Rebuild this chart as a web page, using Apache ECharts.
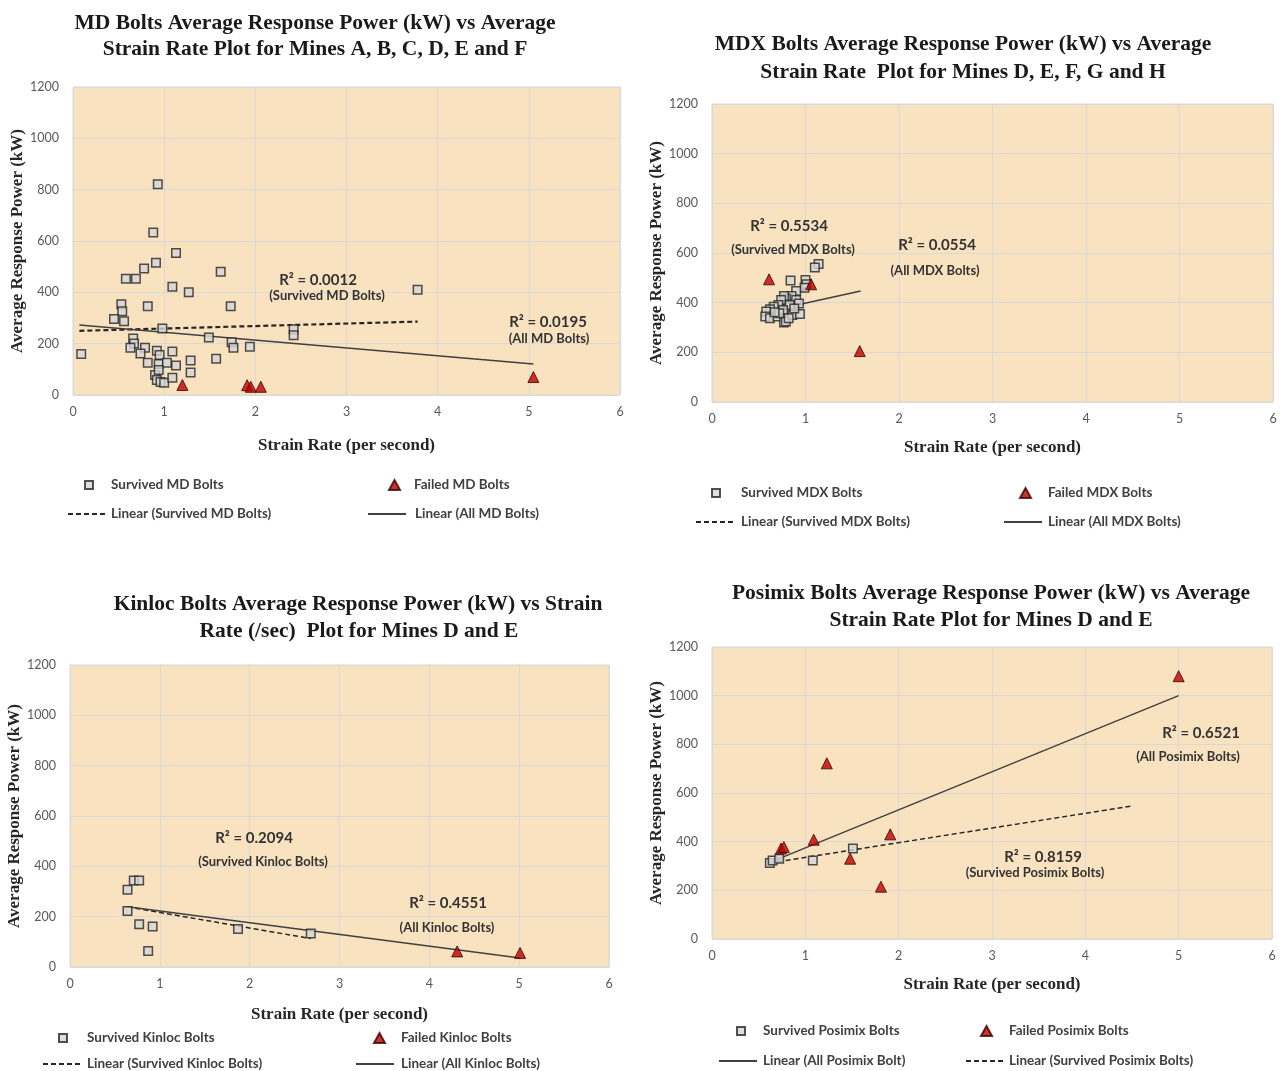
<!DOCTYPE html>
<html>
<head>
<meta charset="utf-8">
<script src="https://cdn.jsdelivr.net/npm/echarts@6/dist/echarts.min.js"></script>
<style>
html,body{margin:0;padding:0;background:#fff;}
#c{width:1283px;height:1071px;}
</style>
</head>
<body>
<div id="c"></div>
<script>
// ---------- DATA ----------
var xTicks = [0, 1, 2, 3, 4, 5, 6];
var yTicks = [0, 200, 400, 600, 800, 1000, 1200];

var mdSurvived = [[0.09,160],[0.93,821],[0.88,633],[1.13,553],[0.91,515],[0.78,493],[0.58,453],[0.69,453],[1.62,480],[1.09,422],[1.27,400],[0.53,354],[0.82,346],[1.73,346],[0.54,326],[0.45,296],[0.56,287],[0.98,259],[2.42,256],[2.42,233],[3.78,410],[1.49,224],[0.66,220],[0.67,201],[1.74,206],[1.76,184],[1.94,188],[0.63,184],[0.79,184],[0.74,162],[0.92,172],[0.95,156],[1.09,169],[0.82,126],[0.94,121],[1.03,126],[1.13,115],[1.29,134],[1.29,88],[1.57,141],[0.90,78],[0.92,58],[0.96,51],[1.00,48],[1.09,67],[0.94,97]];
var mdFailed = [[1.20,39],[1.91,38],[1.95,32],[2.06,32],[5.05,70]];
var mdTrendSurvived = [[0.07,250],[3.78,286]];
var mdTrendAll = [[0.07,273],[5.05,121]];

var mdxSurvived = [[1.14,556],[1.10,542],[0.84,489],[1.00,491],[1.01,474],[0.99,460],[0.90,447],[0.85,427],[0.79,417],[0.77,427],[0.74,411],[0.90,411],[0.93,397],[0.83,391],[0.71,391],[0.66,384],[0.62,373],[0.58,364],[0.57,344],[0.62,337],[0.70,344],[0.77,320],[0.79,324],[0.86,350],[0.94,354],[0.88,377],[0.76,370],[0.72,357],[0.67,361],[0.82,337]];
var mdxFailed = [[0.61,494],[1.06,474],[1.58,205]];
var mdxTrendSurvived = [[0.60,350],[1.05,470]];
var mdxTrendAll = [[0.57,362],[1.59,447]];

var kinlocSurvived = [[0.64,223],[0.64,307],[0.71,344],[0.77,344],[0.77,170],[0.92,161],[0.87,64],[1.87,151],[2.68,133]];
var kinlocFailed = [[4.31,62],[5.01,56]];
var kinlocTrendSurvived = [[0.64,239],[2.68,113]];
var kinlocTrendAll = [[0.64,239],[5.01,36]];

var posimixSurvived = [[0.62,312],[0.65,323],[0.72,330],[1.08,323],[1.51,372]];
var posimixFailed = [[0.74,372],[0.77,378],[1.09,408],[1.23,722],[1.48,330],[1.91,430],[1.81,215],[5.00,1080]];
var posimixTrendSurvived = [[0.62,312],[4.50,547]];
var posimixTrendAll = [[0.62,315],[5.00,1000]];

// ---------- LAYOUT / STYLE ----------
var SERIF = '"Liberation Serif","Times New Roman",serif';
var SANS = 'Lato,"Open Sans",sans-serif';
var PLOT_BG = '#f9e2bf';
var GRID_LINE = '#d9d9d9';

// legend: [iconCentreOrLineLeft, textLeft, centreY]
var panels = [
  {grid:{left:73, top:87, width:547, height:308},
   titles:[['MD Bolts Average Response Power (kW) vs Average',315,12],['Strain Rate Plot for Mines A, B, C, D, E and F',315,38]],
   names:['Survived MD Bolts','Failed MD Bolts','Linear (Survived MD Bolts)','Linear (All MD Bolts)'],
   surv:mdSurvived, fail:mdFailed, tS:mdTrendSurvived, tA:mdTrendAll,
   xGap:42, yGap:41,
   legend:[[88,110,487],[393,413,487],[67,110,516],[367,414,516]],
   notes:[['R² = 0.0012',318,280,15],['(Survived MD Bolts)',327,296,13],['R² = 0.0195',548,322,15],['(All MD Bolts)',549,339,13]]},
  {grid:{left:712, top:104, width:561, height:298},
   titles:[['MDX Bolts Average Response Power (kW) vs Average',963,33],['Strain Rate  Plot for Mines D, E, F, G and H',963,61]],
   names:['Survived MDX Bolts','Failed MDX Bolts','Linear (Survived MDX Bolts)','Linear (All MDX Bolts)'],
   surv:mdxSurvived, fail:mdxFailed, tS:mdxTrendSurvived, tA:mdxTrendAll,
   xGap:37, yGap:43,
   legend:[[715,740,495],[1024,1047,495],[695,740,524],[1003,1047,524]],
   notes:[['R² = 0.5534',789,226,15],['(Survived MDX Bolts)',793,250,13],['R² = 0.0554',937,245,15],['(All MDX Bolts)',935,271,13]]},
  {grid:{left:70, top:665, width:539, height:302},
   titles:[['Kinloc Bolts Average Response Power (kW) vs Strain',358,593],['Rate (/sec)  Plot for Mines D and E',359,620]],
   names:['Survived Kinloc Bolts','Failed Kinloc Bolts','Linear (Survived Kinloc Bolts)','Linear (All Kinloc Bolts)'],
   surv:kinlocSurvived, fail:kinlocFailed, tS:kinlocTrendSurvived, tA:kinlocTrendAll,
   xGap:39, yGap:41,
   legend:[[62,86,1040],[378,400,1040],[42,86,1066],[355,400,1066]],
   notes:[['R² = 0.2094',254,838,15],['(Survived Kinloc Bolts)',263,862,13],['R² = 0.4551',448,903,15],['(All Kinloc Bolts)',447,928,13]]},
  {grid:{left:712, top:647, width:560, height:292},
   titles:[['Posimix Bolts Average Response Power (kW) vs Average',991,582],['Strain Rate Plot for Mines D and E',991,609]],
   names:['Survived Posimix Bolts','Failed Posimix Bolts','Linear (Survived Posimix Bolts)','Linear (All Posimix Bolt)'],
   surv:posimixSurvived, fail:posimixFailed, tS:posimixTrendSurvived, tA:posimixTrendAll,
   xGap:37, yGap:43,
   legend:[[740,762,1033],[985,1008,1033],[965,1008,1063],[718,762,1063]],
   notes:[['R² = 0.6521',1201,733,15],['(All Posimix Bolts)',1188,757,13],['R² = 0.8159',1043,857,15],['(Survived Posimix Bolts)',1035,873,13]]}
];

var option = {
  backgroundColor:'#ffffff',
  animation:false,
  title:[], grid:[], xAxis:[], yAxis:[], series:[], legend:[], graphic:[]
};

var legendText = {fontFamily:SANS, fontWeight:'bold', fontSize:13.5, color:'#404040'};

panels.forEach(function(p, i){
  p.titles.forEach(function(t){
    option.title.push({text:t[0], left:t[1], top:t[2], textAlign:'center', padding:0,
      textStyle:{fontFamily:SERIF, fontWeight:'bold', fontSize:21.5, color:'#1a1a1a'}});
  });
  option.grid.push({left:p.grid.left, top:p.grid.top, width:p.grid.width, height:p.grid.height,
    show:true, backgroundColor:PLOT_BG, borderColor:GRID_LINE, borderWidth:1});
  option.xAxis.push({type:'value', gridIndex:i, min:xTicks[0], max:xTicks[xTicks.length-1], interval:xTicks[1]-xTicks[0],
    name:'Strain Rate (per second)', nameLocation:'middle', nameGap:p.xGap,
    nameTextStyle:{fontFamily:SERIF, fontWeight:'bold', fontSize:17, color:'#262626'},
    axisLine:{show:false}, axisTick:{show:false},
    axisLabel:{fontFamily:SANS, fontSize:12.5, color:'#595959', margin:10, formatter:function(v){return String(v);}},
    splitLine:{show:true, lineStyle:{color:GRID_LINE, width:1}}});
  option.yAxis.push({type:'value', gridIndex:i, min:yTicks[0], max:yTicks[yTicks.length-1], interval:yTicks[1]-yTicks[0],
    name:'Average Response Power (kW)', nameLocation:'middle', nameGap:p.yGap,
    nameTextStyle:{fontFamily:SERIF, fontWeight:'bold', fontSize:17, color:'#262626'},
    axisLine:{show:false}, axisTick:{show:false},
    axisLabel:{fontFamily:SANS, fontSize:12.5, color:'#595959', margin:14, formatter:function(v){return String(v);}},
    splitLine:{show:true, lineStyle:{color:GRID_LINE, width:1}}});

  option.series.push({name:p.names[2], type:'line', xAxisIndex:i, yAxisIndex:i, data:p.tS,
    symbol:'none', z:2, lineStyle:{color:'#262626', width:i===0?2.2:1.5, type:[5,3]}, itemStyle:{color:'#262626'}});
  option.series.push({name:p.names[3], type:'line', xAxisIndex:i, yAxisIndex:i, data:p.tA,
    symbol:'none', z:2, lineStyle:{color:'#404040', width:1.5, type:'solid'}, itemStyle:{color:'#404040'}});
  option.series.push({name:p.names[0], type:'scatter', xAxisIndex:i, yAxisIndex:i, data:p.surv,
    symbol:'rect', symbolSize:8.5, z:3,
    itemStyle:{color:'#d6d6d6', borderColor:'#262626', borderWidth:1.5}});
  option.series.push({name:p.names[1], type:'scatter', xAxisIndex:i, yAxisIndex:i, data:p.fail,
    symbol:'triangle', symbolSize:11, z:4,
    itemStyle:{color:'#c00000', borderColor:'#3a0000', borderWidth:1}});

  // legend items
  var sizes = [[8,8],[11,10],[38,10],[38,10]];
  [0,1,2,3].forEach(function(k){
    var L = p.legend[k];
    var w = sizes[k][0], h = sizes[k][1];
    var left = (k < 2) ? Math.round(L[0] - w/2) : L[0];
    var textPad = L[1] - (left + w + 5);
    var lg = {data:[p.names[k]], left:left, top:L[2]-9, itemWidth:w, itemHeight:h, itemGap:0,
      padding:0, selectedMode:false,
      textStyle:Object.assign({padding:[0,0,0,textPad]}, legendText)};
    if (k >= 2) { lg.itemStyle = {opacity:0}; }
    option.legend.push(lg);
  });

  p.notes.forEach(function(n){
    option.graphic.push({type:'text', x:n[1], y:n[2], z:10,
      style:{text:n[0], align:'center', verticalAlign:'middle',
        font:'bold '+n[3]+'px '+SANS, fill:'#333333'}});
  });
});

var chart = echarts.init(document.getElementById('c'), null, {renderer:'canvas'});
chart.setOption(option);
</script>
</body>
</html>
